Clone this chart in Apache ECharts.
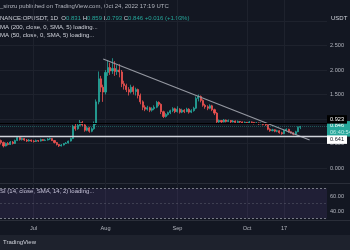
<!DOCTYPE html>
<html><head><meta charset="utf-8">
<script src="https://cdn.jsdelivr.net/npm/echarts@6/dist/echarts.min.js"></script>
<style>html,body{margin:0;padding:0;background:#131722;}#c{width:350px;height:250px;}</style>
</head><body><div id="c"></div>
<script>
// ---- data ----
const startDate = '2022-06-17';
const dayCount = 141;
const tickDates = ['2022-07-01','2022-08-01','2022-09-01','2022-10-01','2022-10-17'];
const tickLabels = ['Jul','Aug','Sep','Oct','17'];
// [open, close, low, high] daily from 2022-06-17
const ohlc = [
[0.56,0.52,0.48,0.58],[0.52,0.45,0.42,0.54],[0.45,0.50,0.44,0.52],[0.50,0.48,0.46,0.53],[0.48,0.53,0.47,0.55],
[0.53,0.50,0.48,0.55],[0.50,0.56,0.49,0.58],[0.56,0.62,0.55,0.64],[0.62,0.58,0.56,0.63],[0.58,0.60,0.56,0.62],
[0.60,0.57,0.55,0.61],[0.57,0.55,0.53,0.59],[0.55,0.57,0.54,0.59],[0.57,0.55,0.53,0.58],[0.55,0.54,0.52,0.57],
[0.54,0.56,0.53,0.58],[0.56,0.55,0.53,0.57],[0.55,0.58,0.54,0.60],[0.58,0.56,0.55,0.59],[0.56,0.57,0.55,0.59],
[0.57,0.59,0.56,0.61],[0.59,0.60,0.57,0.62],[0.60,0.56,0.55,0.61],[0.56,0.52,0.50,0.57],[0.52,0.48,0.46,0.53],
[0.48,0.45,0.43,0.49],[0.45,0.47,0.44,0.49],[0.47,0.50,0.46,0.51],[0.50,0.51,0.49,0.53],[0.51,0.55,0.50,0.56],
[0.55,0.60,0.54,0.62],[0.60,0.85,0.59,0.88],[0.85,0.80,0.76,0.90],[0.80,0.87,0.78,0.90],[0.87,0.93,0.85,0.98],
[0.93,0.88,0.85,0.96],[0.88,0.77,0.74,0.90],[0.77,0.82,0.75,0.85],[0.82,0.75,0.72,0.84],[0.75,0.80,0.73,0.83],
[0.80,0.90,0.78,0.95],[0.90,1.35,0.88,1.40],[1.35,1.82,1.30,1.97],[1.82,1.65,1.55,1.88],[1.65,1.55,1.35,1.70],
[1.55,1.95,1.50,2.00],[1.95,2.05,1.88,2.20],[2.05,1.98,1.90,2.15],[1.98,2.03,1.92,2.24],[2.03,1.97,1.88,2.18],
[1.97,2.00,1.90,2.10],[2.00,1.96,1.85,2.12],[1.96,1.72,1.65,2.00],[1.72,1.68,1.60,1.78],[1.68,1.60,1.55,1.72],
[1.60,1.55,1.48,1.65],[1.55,1.65,1.52,1.70],[1.65,1.56,1.50,1.68],[1.56,1.60,1.48,1.64],[1.60,1.48,1.42,1.62],
[1.48,1.35,1.30,1.52],[1.35,1.24,1.18,1.38],[1.24,1.20,1.16,1.28],[1.20,1.23,1.17,1.27],[1.23,1.18,1.14,1.25],
[1.18,1.21,1.15,1.24],[1.21,1.24,1.18,1.28],[1.24,1.34,1.22,1.37],[1.34,1.30,1.26,1.36],[1.30,1.15,1.10,1.32],
[1.15,1.05,1.02,1.17],[1.05,1.09,1.03,1.12],[1.09,1.13,1.07,1.15],[1.13,1.17,1.10,1.19],[1.17,1.21,1.14,1.24],
[1.21,1.15,1.12,1.23],[1.15,1.20,1.13,1.26],[1.20,1.14,1.11,1.22],[1.14,1.18,1.12,1.21],[1.18,1.15,1.12,1.20],
[1.15,1.20,1.14,1.23],[1.20,1.14,1.11,1.22],[1.14,1.17,1.12,1.20],[1.17,1.22,1.15,1.25],[1.22,1.42,1.20,1.46],
[1.42,1.46,1.36,1.50],[1.46,1.38,1.34,1.48],[1.38,1.28,1.25,1.40],[1.28,1.25,1.21,1.31],[1.25,1.22,1.18,1.28],
[1.22,1.27,1.20,1.30],[1.27,1.19,1.16,1.29],[1.19,1.12,1.08,1.21],[1.12,0.94,0.91,1.14],[0.94,0.97,0.92,0.99],
[0.97,0.94,0.92,0.98],[0.94,0.98,0.93,1.00],[0.98,0.95,0.93,0.99],[0.95,0.97,0.94,0.99],[0.97,0.94,0.92,0.98],
[0.94,0.96,0.93,0.98],[0.96,0.93,0.91,0.97],[0.93,0.95,0.92,0.97],[0.95,0.94,0.92,0.96],[0.94,0.92,0.90,0.95],
[0.92,0.93,0.91,0.95],[0.93,0.92,0.90,0.94],[0.92,0.94,0.91,0.96],[0.94,0.93,0.91,0.95],[0.93,0.91,0.89,0.94],
[0.91,0.92,0.90,0.94],[0.92,0.90,0.88,0.93],[0.90,0.91,0.89,0.93],[0.91,0.89,0.87,0.92],[0.89,0.88,0.86,0.90],
[0.88,0.79,0.77,0.89],[0.79,0.76,0.74,0.81],[0.76,0.78,0.75,0.80],[0.78,0.75,0.73,0.79],[0.75,0.76,0.73,0.78],
[0.76,0.72,0.70,0.77],[0.72,0.70,0.68,0.74],[0.70,0.77,0.69,0.79],[0.77,0.79,0.75,0.81],[0.79,0.74,0.72,0.80],
[0.74,0.72,0.70,0.75],[0.72,0.69,0.67,0.73],[0.69,0.74,0.68,0.76],[0.74,0.83,0.73,0.85],[0.831,0.846,0.793,0.859]
];
const trendStart = ['2022-07-31', 2.224];
const trendEnd = ['2022-10-28', 0.571];
const resistanceLevel = 0.923;
const supportLevel = 0.641;
const lastClose = 0.846;
const countdown = '06:40:54';
const rsiLevels = [70, 50, 30];

// ---- build ----
const dates = [];
{
  const d0 = new Date(startDate + 'T00:00:00Z');
  for (let i = 0; i < dayCount; i++) {
    const d = new Date(d0.getTime() + i * 86400000);
    dates.push(d.toISOString().slice(0, 10));
  }
}
const rsiEmpty = dates.map(() => null);
const UP = '#26a69a', DOWN = '#ef5350', TXT = '#b2b5be', GRID = '#1e222d';
const FONT = 'Liberation Sans, Arial, sans-serif';

const chart = echarts.init(document.getElementById('c'), null, {renderer: 'canvas'});
const tickSet = new Set(tickDates);
chart.setOption({
  animation: false,
  backgroundColor: '#131722',
  textStyle: {fontFamily: FONT},
  grid: [
    {left: 0, right: 23, top: 0, height: 220},
    {left: 0, right: 23, top: 21, height: 171.5},
    {left: 0, right: 23, top: 181, height: 45}
  ],
  xAxis: [
    {type: 'category', gridIndex: 0, data: dates, boundaryGap: true,
     axisLine: {show: false}, axisTick: {show: false},
     axisLabel: {interval: (i, v) => tickSet.has(v), formatter: v => tickLabels[tickDates.indexOf(v)],
       color: TXT, fontSize: 5.6, margin: 5, fontFamily: FONT},
     splitLine: {show: true, interval: (i, v) => tickSet.has(v), alignWithLabel: true, lineStyle: {color: GRID, width: 1}}},
    {type: 'category', gridIndex: 1, data: dates, boundaryGap: true, show: false},
    {type: 'category', gridIndex: 2, data: dates, boundaryGap: true, show: false}
  ],
  yAxis: [
    {type: 'value', gridIndex: 0, show: false, min: 0, max: 1},
    {type: 'value', gridIndex: 1, position: 'right', min: -0.5, max: 3.0, interval: 0.5,
     axisLine: {show: false}, axisTick: {show: false},
     axisLabel: {color: TXT, fontSize: 5.6, margin: 3, fontFamily: FONT,
       formatter: v => (v < 0 || v >= 3) ? '' : v.toFixed(3)},
     splitLine: {show: true, lineStyle: {color: ['rgba(0,0,0,0)', GRID, GRID, GRID, GRID, GRID, GRID, GRID]}}},
    {type: 'value', gridIndex: 2, position: 'right', min: 20, max: 80, interval: 20,
     axisLine: {show: false}, axisTick: {show: false}, splitLine: {show: false},
     axisLabel: {color: TXT, fontSize: 5.6, margin: 3, fontFamily: FONT,
       formatter: v => (v === 40 || v === 60) ? v.toFixed(2) : ''}}
  ],
  series: [
    {type: 'candlestick', xAxisIndex: 1, yAxisIndex: 1, data: ohlc, barWidth: '68%',
     itemStyle: {color: UP, color0: DOWN, borderColor: UP, borderColor0: DOWN, borderWidth: 0.8},
     markLine: {silent: true, symbol: 'none', animation: false,
       data: [
         [{coord: trendStart, lineStyle: {color: '#9598a1', width: 1.2, type: 'solid'}, label: {show: false}},
          {coord: trendEnd}],
         {yAxis: lastClose, lineStyle: {color: 'rgba(38,166,154,0.45)', width: 1, type: 'dotted'},
          label: {show: true, position: 'end', distance: 0, offset: [0, 2.5],
            formatter: '{a|' + lastClose.toFixed(3) + '}\n{b|' + countdown + '}',
            backgroundColor: UP, padding: [1.5, 3, 1, 3],
            rich: {a: {color: '#ffffff', fontSize: 5.6, lineHeight: 6.5, fontFamily: FONT},
                   b: {color: '#bdeee8', fontSize: 5.6, lineHeight: 6.5, fontFamily: FONT}}}},
         {yAxis: resistanceLevel, lineStyle: {color: '#000000', width: 1.2, type: 'solid'},
          label: {show: true, position: 'end', distance: 0, offset: [0, -3.5],
            formatter: resistanceLevel.toFixed(3), color: '#ffffff', backgroundColor: '#000000',
            fontSize: 5.6, padding: [1.5, 3, 1, 3], fontFamily: FONT}},
         {yAxis: supportLevel, lineStyle: {color: '#d1d4dc', width: 1.3, type: 'solid'},
          label: {show: true, position: 'end', distance: 0, offset: [0, 3],
            formatter: supportLevel.toFixed(3), color: '#131722', backgroundColor: '#ffffff',
            fontSize: 5.6, padding: [1.5, 3, 1, 3], fontFamily: FONT}}
       ]}},
    {type: 'line', xAxisIndex: 2, yAxisIndex: 2, data: rsiEmpty, showSymbol: false, silent: true,
     markArea: {silent: true, itemStyle: {color: 'rgba(126,87,194,0.13)'},
       data: [[{yAxis: rsiLevels[2]}, {yAxis: rsiLevels[0]}]]},
     markLine: {silent: true, symbol: 'none', label: {show: false},
       data: [
         {yAxis: rsiLevels[0], lineStyle: {color: '#787b86', width: 1, type: [2, 2]}},
         {yAxis: rsiLevels[1], lineStyle: {color: 'rgba(120,123,134,0.35)', width: 1, type: [2, 2]}},
         {yAxis: rsiLevels[2], lineStyle: {color: '#787b86', width: 1, type: [2, 2]}}
       ]}}
  ],
  graphic: [
    {type: 'rect', shape: {x: 0, y: 235, width: 350, height: 15}, style: {fill: '#1e222d'}, z: -1, silent: true},
    {type: 'line', shape: {x1: 0, y1: 183.5, x2: 350, y2: 183.5}, style: {stroke: '#2a2e39', lineWidth: 1}, silent: true},
    {type: 'line', shape: {x1: 0, y1: 220.5, x2: 350, y2: 220.5}, style: {stroke: '#2a2e39', lineWidth: 1}, silent: true},
    {type: 'text', left: 0, top: 3, silent: true,
     style: {text: '_sinzu published on TradingView.com, Oct 24, 2022 17:19 UTC', fill: TXT, fontSize: 6, fontFamily: FONT}},
    {type: 'text', left: 0, top: 15.5, silent: true,
     style: {text: 'NANCE:OPUSDT, 1D  O{g|0.831} H{g|0.859} L{g|0.793} C{g|0.846} {g|+0.016 (+1.93%)}',
       fill: '#d1d4dc', fontSize: 6, fontFamily: FONT,
       rich: {g: {fill: UP, fontSize: 6, fontFamily: FONT}}}},
    {type: 'text', left: 0, top: 24, silent: true,
     style: {text: 'MA (200, close, 0, SMA, 5) loading...', fill: '#d1d4dc', fontSize: 6, fontFamily: FONT}},
    {type: 'text', left: 0, top: 32, silent: true,
     style: {text: 'MA (50, close, 0, SMA, 5) loading...', fill: '#d1d4dc', fontSize: 6, fontFamily: FONT}},
    {type: 'text', left: 331, top: 15, silent: true,
     style: {text: 'USDT', fill: '#d1d4dc', fontSize: 6, fontFamily: FONT}},
    {type: 'text', left: 0, top: 188.5, silent: true,
     style: {text: 'SI (14, close, SMA, 14, 2) loading...', fill: '#d1d4dc', fontSize: 6, fontFamily: FONT}},
    {type: 'text', left: 3, top: 239, silent: true,
     style: {text: 'TradingView', fill: '#d1d4dc', fontSize: 6, fontFamily: FONT}}
  ]
});
</script></body></html>
